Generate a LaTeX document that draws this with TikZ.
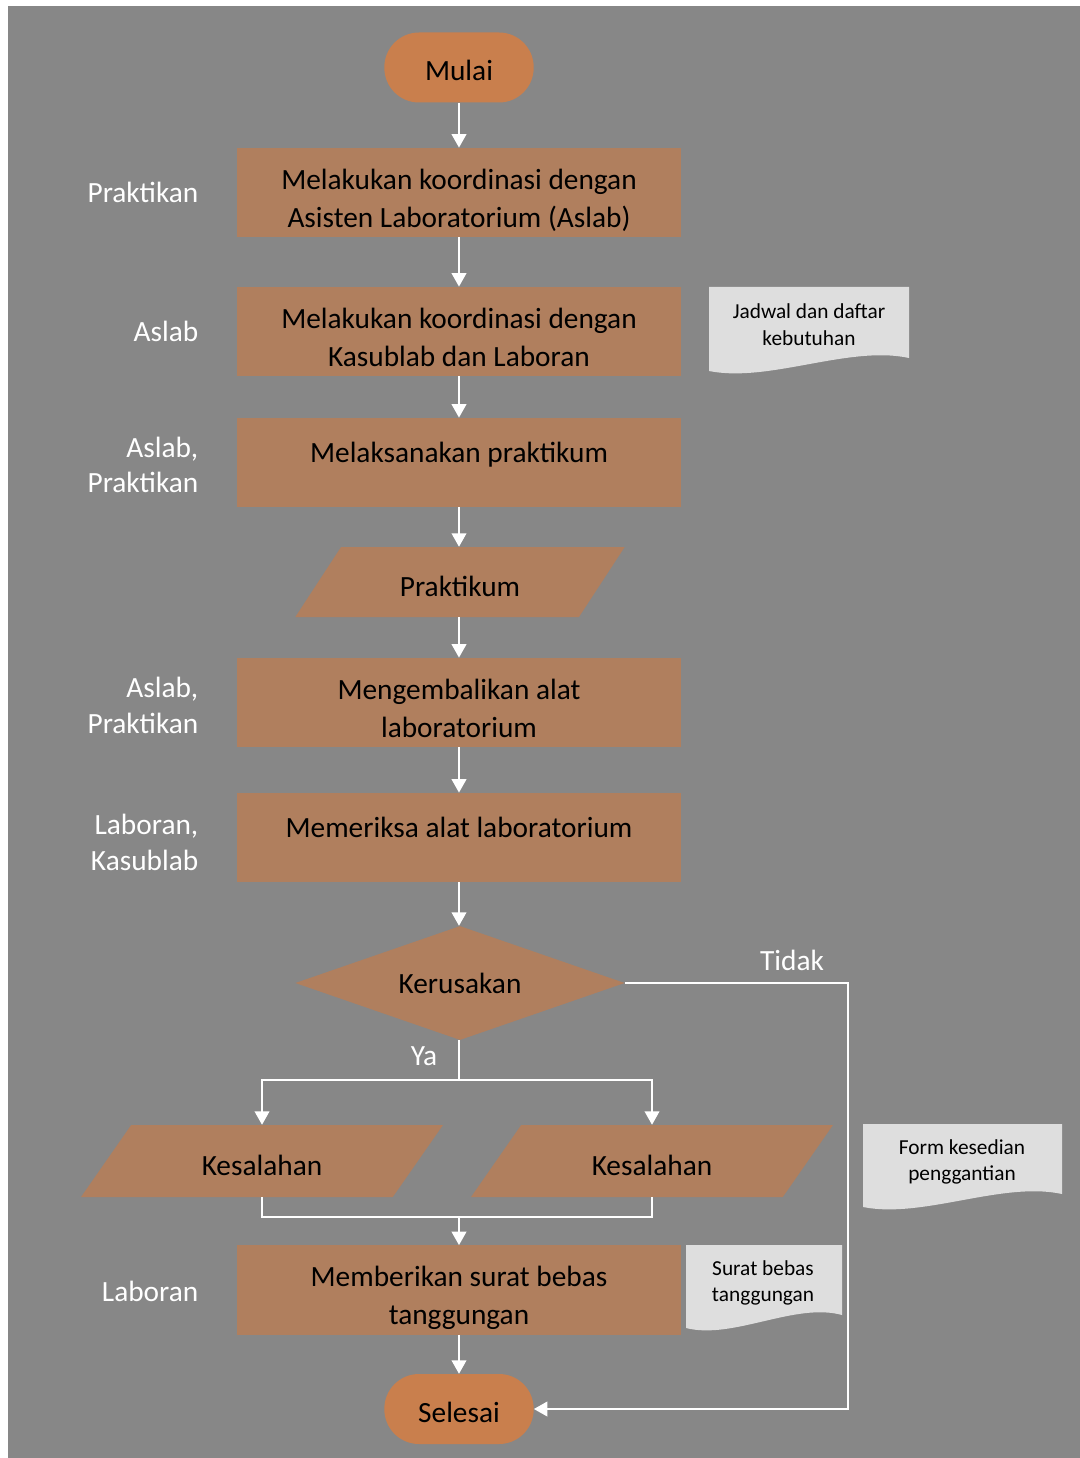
\documentclass[tikz,border=0pt]{standalone}
\usepackage{fontspec}
\setmainfont{Carlito}
\usetikzlibrary{shapes.geometric,arrows.meta}

\definecolor{bggray}{HTML}{878787}
\definecolor{termclr}{HTML}{C97F4D}
\definecolor{procclr}{HTML}{B07F5E}
\definecolor{docclr}{HTML}{DEDEDE}

% paper shape with a wavy bottom: x1, top, x2, bottom (left side)
\newcommand{\docpaper}[4]{%
  \fill[docclr] (#1,#2) -- (#3,#2) -- (#3,#4-13)
    .. controls ({#1+0.7*(#3-#1)},#4-26) and ({#1+0.3*(#3-#1)},#4+12) .. (#1,#4) -- cycle;}

\tikzset{
  mainfont/.style={font=\fontsize{22}{28.5}\selectfont},
  terminal/.style={mainfont, rectangle, rounded corners=26pt, fill=termclr,
    minimum width=112pt, minimum height=52.5pt, text height=20pt, text depth=0pt},
  process/.style={mainfont, rectangle, fill=procclr, align=center,
    minimum width=333pt, minimum height=67pt},
  oneline/.style={process, text depth=15.6pt},
  twoline/.style={process, text height=52pt, text depth=0pt},
  inout/.style={mainfont, trapezium, trapezium left angle=57, trapezium right angle=123,
    trapezium stretches=true, fill=procclr, text height=22pt, text depth=0pt},
  decision/.style={mainfont, diamond, fill=procclr, inner sep=0pt, shape aspect=2.9,
    minimum width=247pt, minimum height=85.5pt},
  role/.style={anchor=east, align=right, text=white, font=\fontsize{22}{26.6}\selectfont},
  doctext/.style={align=center, font=\fontsize{16}{20}\selectfont},
  plainline/.style={draw=white, line width=1.1pt},
  arrowline/.style={plainline, -{Triangle[width=11pt,length=10pt]}},
}

\begin{document}
\begin{tikzpicture}[x=0.75pt, y=-0.75pt]
    % Background
    \useasboundingbox (0,0) rectangle (1080,1458);
    \fill[white] (0,0) rectangle (1080,1458);
    \fill[bggray] (8,6) rectangle (1080,1458);

    % Paper documents
    \docpaper{709}{287}{909}{371}
    \docpaper{863}{1124}{1062}{1207}
    \docpaper{686}{1245}{842}{1328}
    \node[doctext] (jadwal) at (809,324.5) {Jadwal dan daftar\\kebutuhan};
    \node[doctext] (form) at (962,1162) {Form kesedian\\penggantian};
    \node[doctext] (surat) at (763,1283) {Surat bebas\\tanggungan};

    % Flow steps
    \node[terminal] (start) at (459,67.5) {Mulai};
    \node[twoline] (p1) at (459,192.5) {Melakukan koordinasi dengan\\Asisten Laboratorium (Aslab)};
    \node[twoline] (p2) at (459,331.5) {Melakukan koordinasi dengan\\Kasublab dan Laboran};
    \node[oneline] (p3) at (459,462.5) {Melaksanakan praktikum};
    \node[inout, minimum width=247.5pt, minimum height=52.5pt] (prak) at (460,582) {Praktikum};
    \node[twoline] (p4) at (459,702.5) {Mengembalikan alat\\laboratorium};
    \node[oneline] (p5) at (459,837.5) {Memeriksa alat laboratorium};
    \node[decision] (dec) at (460,983) {Kerusakan};
    \node[inout, minimum width=271.5pt, minimum height=54pt] (k1) at (262,1161) {Kesalahan};
    \node[inout, minimum width=271.5pt, minimum height=54pt] (k2) at (652,1161) {Kesalahan};
    \node[twoline] (p6) at (459,1290) {Memberikan surat bebas\\tanggungan};
    \node[terminal] (stop) at (459,1409) {Selesai};

    % Roles
    \node[role] (r1) at (203,192) {Praktikan};
    \node[role] (r2) at (203,331) {Aslab};
    \node[role] (r3) at (203,465) {Aslab,\\Praktikan};
    \node[role] (r4) at (203,705.5) {Aslab,\\Praktikan};
    \node[role] (r5) at (203,842.5) {Laboran,\\Kasublab};
    \node[role] (r6) at (203,1291) {Laboran};

    % Branch labels
    \node[mainfont, text=white] (tidak) at (792,960) {Tidak};
    \node[mainfont, text=white] (ya) at (424,1056) {Ya};

    % Turning points
    \coordinate (tidakcorner) at (848,983);
    \coordinate (yasplit) at (459,1080);
    \coordinate (merge) at (459,1217);

    % Connectors
    \draw[arrowline] (start) -- (p1);
    \draw[arrowline] (p1) -- (p2);
    \draw[arrowline] (p2) -- (p3);
    \draw[arrowline] (p3.south) -- (p3.south |- prak.north);
    \draw[arrowline] (p3.south |- prak.south) -- (p4.north);
    \draw[arrowline] (p4) -- (p5);
    \draw[arrowline] (p5.south) -- (p5.south |- dec.north);
    \draw[plainline] (p5.south |- dec.south) -- (yasplit);
    \draw[arrowline] (yasplit) -| (k1.north);
    \draw[arrowline] (yasplit) -| (k2.north);
    \draw[plainline] (k1.south) |- (merge) -| (k2.south);
    \draw[arrowline] (merge) -- (p6.north);
    \draw[arrowline] (p6) -- (stop);
    \draw[arrowline] (dec.east) -- (tidakcorner) |- (stop.east);

\end{tikzpicture}
\end{document}
